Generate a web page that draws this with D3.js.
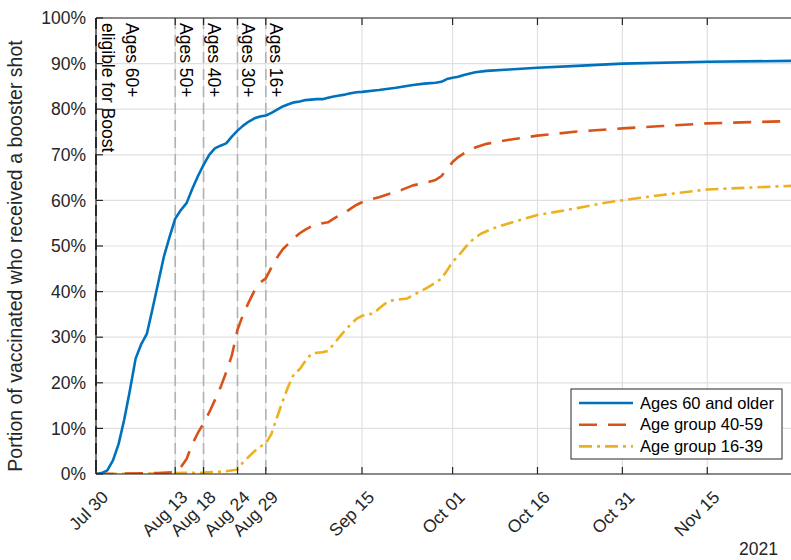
<!DOCTYPE html>
<html>
<head>
<meta charset="utf-8">
<script src="https://cdn.jsdelivr.net/npm/d3@7"></script>
<style>
  body { margin: 0; background: #fff; }
  text { font-family: "Liberation Sans", Arial, Helvetica, sans-serif; }
</style>
</head>
<body>
<script>
// values (percent of vaccinated with a booster)
var blueDates = ["07-30","07-31","08-01","08-02","08-03","08-04","08-05","08-06","08-07","08-08",
  "08-09","08-10","08-11","08-12","08-13","08-14","08-15","08-16","08-17","08-18",
  "08-19","08-20","08-21","08-22","08-23","08-24","08-25","08-26","08-27","08-28",
  "08-29","08-30","08-31","09-01","09-02","09-03","09-04","09-05","09-06","09-07",
  "09-08","09-09","09-10","09-11","09-12","09-13","09-14","09-15","09-18","09-21",
  "09-24","09-26","09-28","09-29","09-30","10-01","10-02","10-03","10-05","10-07",
  "10-11","10-16","10-23","10-31","11-15","11-30"];
var blueVals = [0,0.2,0.8,3.0,6.6,12.0,18.4,25.3,28.5,30.8,
  36.3,42.0,47.7,52.0,56.0,57.9,59.4,62.5,65.3,67.8,
  70.0,71.4,72.0,72.5,74.0,75.3,76.4,77.3,78.0,78.4,
  78.6,79.2,79.9,80.6,81.1,81.5,81.7,82.0,82.1,82.2,
  82.2,82.5,82.8,83.0,83.2,83.5,83.7,83.8,84.2,84.7,
  85.3,85.6,85.8,86.0,86.6,86.9,87.1,87.5,88.1,88.4,
  88.7,89.1,89.5,90.0,90.4,90.6];

var redDates = ["07-30","08-05","08-10","08-13","08-14","08-15","08-16","08-17","08-18","08-19",
  "08-20","08-21","08-22","08-23","08-24","08-25","08-26","08-27","08-28","08-29",
  "08-30","08-31","09-01","09-02","09-03","09-04","09-05","09-06","09-07","09-08",
  "09-09","09-10","09-11","09-12","09-13","09-14","09-15","09-16","09-18","09-20",
  "09-22","09-24","09-26","09-28","09-29","09-30","10-01","10-02","10-03","10-04",
  "10-05","10-07","10-11","10-16","10-23","10-31","11-07","11-15","11-30"];
var redVals = [0,0.1,0.2,0.4,1.5,3.3,6.5,9.0,11.1,13.5,
  16.2,19.0,22.3,26.0,31.6,35.0,37.7,40.2,42.0,42.9,
  45.3,47.5,49.3,50.5,51.8,52.8,53.6,54.3,54.8,55.0,
  55.2,56.0,56.7,57.3,58.2,59.0,59.6,60.0,60.7,61.5,
  62.3,63.3,63.8,64.5,65.3,66.8,68.4,69.5,70.3,71.0,
  71.6,72.4,73.3,74.2,75.1,75.8,76.3,76.9,77.4];

var yellowDates = ["07-30","08-08","08-18","08-22","08-24","08-25","08-26","08-27","08-28","08-29",
  "08-30","08-31","09-01","09-02","09-03","09-04","09-05","09-06","09-07","09-08",
  "09-09","09-10","09-11","09-12","09-13","09-14","09-15","09-16","09-17","09-18",
  "09-19","09-20","09-21","09-23","09-24","09-26","09-27","09-28","09-29","09-30",
  "10-01","10-02","10-03","10-04","10-05","10-06","10-08","10-11","10-16","10-23",
  "10-28","11-01","11-07","11-15","11-30"];
var yellowVals = [0,0.1,0.3,0.6,1.0,2.6,3.8,5.0,6.0,6.7,
  8.8,12.5,16.0,19.3,22.0,23.0,24.8,26.3,26.6,26.7,
  27.0,28.5,30.0,31.5,32.8,34.0,34.7,35.0,35.2,36.3,
  37.3,38.0,38.2,38.5,39.2,40.5,41.2,42.0,42.8,44.6,
  46.5,47.8,49.3,50.8,51.8,52.7,53.8,55.0,56.8,58.3,
  59.5,60.2,61.2,62.4,63.2];

var seriesNames = ["Ages 60 and older", "Age group 40-59", "Age group 16-39"];
var seriesColors = ["#0072BD", "#D95319", "#EDB120"];
var seriesDash = [null, "18,11", "13,5,3,5"];

var tickDates = ["07-30","08-13","08-18","08-24","08-29","09-15","10-01","10-16","10-31","11-15"];
var yTicks = [0,10,20,30,40,50,60,70,80,90,100];

// eligibility lines
var eligDates = ["07-30","08-13","08-18","08-24","08-29"];
var eligLabels = [["Ages 60+","eligible for Boost"],["Ages 50+"],["Ages 40+"],["Ages 30+"],["Ages 16+"]];

var parse = function(s) { return d3.timeParse("%Y-%m-%d")("2021-" + s); };
var fmt = d3.timeFormat("%b %d");

var W = 791, H = 560;
var mLeft = 96, mTop = 18, mBottom = 474;
var pxPerDay = 5.66;
var xStart = parse("07-30"), xEnd = parse("12-01");
var mRight = mLeft + d3.timeDay.count(xStart, xEnd) * pxPerDay;

var x = d3.scaleTime().domain([xStart, xEnd]).range([mLeft, mRight]);
var y = d3.scaleLinear().domain([0, 100]).range([mBottom, mTop]);

var svg = d3.select("body").append("svg")
    .attr("width", W).attr("height", H);

svg.append("defs").append("clipPath").attr("id", "plot")
    .append("rect").attr("x", mLeft).attr("y", mTop)
    .attr("width", mRight - mLeft).attr("height", mBottom - mTop);

// grid
svg.append("g").selectAll("line").data(yTicks).enter().append("line")
    .attr("x1", mLeft).attr("x2", mRight)
    .attr("y1", function(d) { return y(d); }).attr("y2", function(d) { return y(d); })
    .style("stroke", "#e0e0e0").style("stroke-width", 1.2);

svg.append("g").selectAll("line").data(tickDates).enter().append("line")
    .attr("x1", function(d) { return x(parse(d)); }).attr("x2", function(d) { return x(parse(d)); })
    .attr("y1", mTop).attr("y2", mBottom)
    .style("stroke", "#e0e0e0").style("stroke-width", 1.2);

// eligibility dashed lines
svg.append("g").selectAll("line").data(eligDates).enter().append("line")
    .attr("x1", function(d) { return x(parse(d)); }).attr("x2", function(d) { return x(parse(d)); })
    .attr("y1", mTop).attr("y2", mBottom)
    .style("stroke", function(d, i) { return i === 0 ? "#000" : "#b3b3b3"; })
    .style("stroke-width", 1.6)
    .style("stroke-dasharray", "11,6");

// series lines
var line = d3.line()
    .x(function(d) { return x(d.date); })
    .y(function(d) { return y(d.v); });

var allSeries = [
  blueDates.map(function(d, i) { return {date: parse(d), v: blueVals[i]}; }),
  redDates.map(function(d, i) { return {date: parse(d), v: redVals[i]}; }),
  yellowDates.map(function(d, i) { return {date: parse(d), v: yellowVals[i]}; })
];

var lines = svg.append("g").attr("clip-path", "url(#plot)");
[2, 1, 0].forEach(function(i) {
  lines.append("path")
      .attr("d", line(allSeries[i]))
      .style("fill", "none")
      .style("stroke", seriesColors[i])
      .style("stroke-width", 2.6)
      .style("stroke-linejoin", "round")
      .style("stroke-dasharray", seriesDash[i]);
});

// eligibility labels, rotated to read downward, text to the right of the line
eligDates.forEach(function(d, i) {
  var lx = x(parse(d));
  var g = svg.append("g").attr("transform", "translate(" + lx + "," + mTop + ") rotate(90)");
  var lab = eligLabels[i];
  lab.forEach(function(t, j) {
    var off = (lab.length - 1 - j) * 23.5 + (lab.length > 1 ? 6 : 4.5);
    g.append("text")
        .attr("x", 5).attr("y", -off)
        .style("font-size", "17.5px")
        .style("fill", "#000")
        .text(t);
  });
});

// axes box
svg.append("line").attr("x1", mLeft).attr("x2", mRight).attr("y1", mBottom).attr("y2", mBottom)
    .style("stroke", "#262626").style("stroke-width", 1.2);
svg.append("line").attr("x1", mLeft).attr("x2", mRight).attr("y1", mTop).attr("y2", mTop)
    .style("stroke", "#262626").style("stroke-width", 1.2);
svg.append("line").attr("x1", mLeft).attr("x2", mLeft).attr("y1", mTop).attr("y2", mBottom)
    .style("stroke", "#262626").style("stroke-width", 1.2);

// x ticks (inside, bottom and top)
tickDates.forEach(function(d) {
  var tx = x(parse(d));
  svg.append("line").attr("x1", tx).attr("x2", tx).attr("y1", mBottom).attr("y2", mBottom - 7)
      .style("stroke", "#262626").style("stroke-width", 1.2);
  svg.append("line").attr("x1", tx).attr("x2", tx).attr("y1", mTop).attr("y2", mTop + 7)
      .style("stroke", "#262626").style("stroke-width", 1.2);
  svg.append("text")
      .attr("transform", "translate(" + (tx + 9) + "," + (mBottom + 20) + ") rotate(-45)")
      .attr("text-anchor", "end")
      .attr("dy", "0.35em")
      .style("font-size", "17.5px")
      .style("fill", "#262626")
      .text(fmt(parse(d)));
});

// y ticks
yTicks.forEach(function(v) {
  svg.append("line").attr("x1", mLeft).attr("x2", mLeft + 7).attr("y1", y(v)).attr("y2", y(v))
      .style("stroke", "#262626").style("stroke-width", 1.2);
  svg.append("text")
      .attr("x", mLeft - 10).attr("y", y(v))
      .attr("text-anchor", "end")
      .attr("dy", "0.35em")
      .style("font-size", "17.5px")
      .style("fill", "#262626")
      .text(v + "%");
});

svg.append("text")
    .attr("transform", "translate(22," + ((mTop + mBottom) / 2 + 10) + ") rotate(-90)")
    .attr("text-anchor", "middle")
    .style("font-size", "19.5px")
    .style("fill", "#262626")
    .text("Portion of vaccinated who received a booster shot");

svg.append("text")
    .attr("x", 778).attr("y", 555)
    .attr("text-anchor", "end")
    .style("font-size", "17.5px")
    .style("fill", "#262626")
    .text("2021");

// legend
var lg = svg.append("g");
lg.append("rect").attr("x", 571).attr("y", 389).attr("width", 211).attr("height", 70)
    .style("fill", "#fff").style("stroke", "#262626").style("stroke-width", 1);
seriesNames.forEach(function(n, i) {
  var ly = 403 + i * 21.7;
  lg.append("line").attr("x1", 579).attr("x2", 633).attr("y1", ly).attr("y2", ly)
      .style("stroke", seriesColors[i]).style("stroke-width", 2.6)
      .style("stroke-dasharray", seriesDash[i]);
  lg.append("text").attr("x", 640).attr("y", ly).attr("dy", "0.35em")
      .style("font-size", "16.5px")
      .style("fill", "#000")
      .text(n);
});
</script>
</body>
</html>
